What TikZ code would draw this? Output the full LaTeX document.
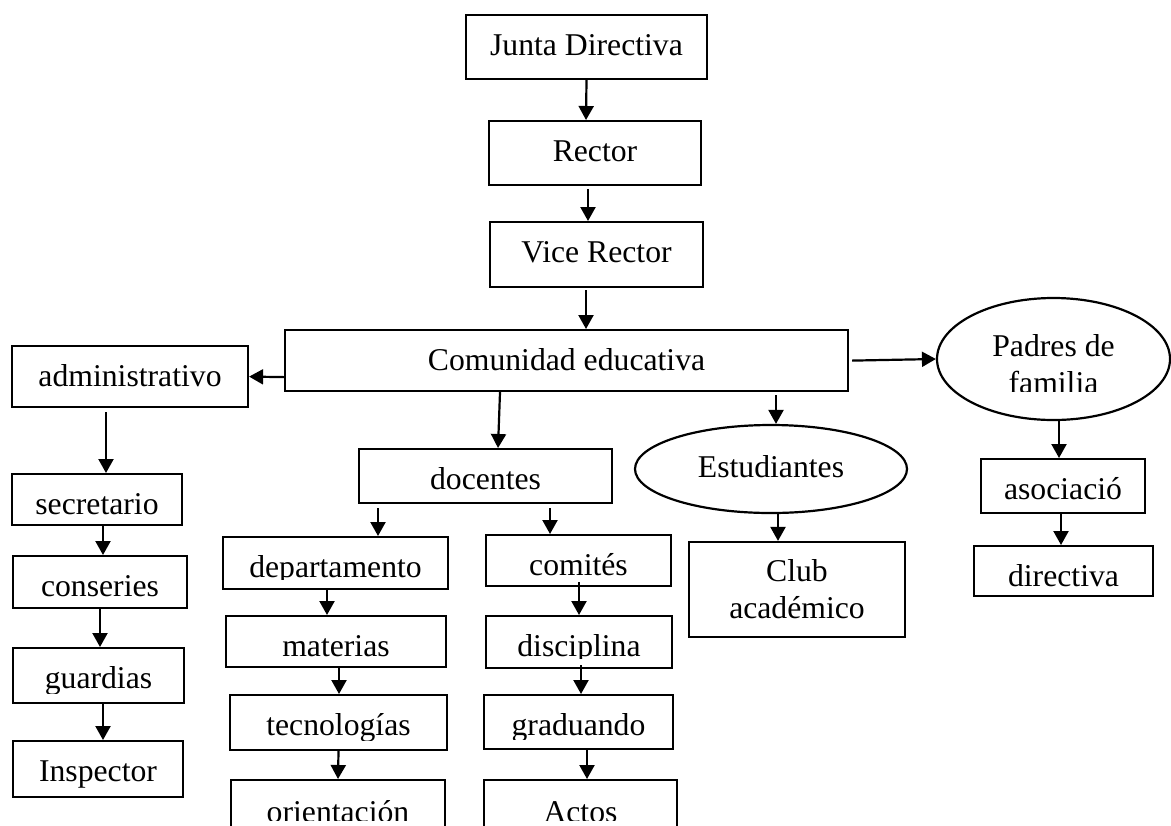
\documentclass[tikz,border=0pt]{standalone}
\usepackage{fontspec}
\setmainfont{Liberation Serif}
\usepackage{trimclip}
\usetikzlibrary{arrows.meta,calc,shapes.geometric}

\newcommand{\cuttext}[2]{\clipbox{0pt {#1} 0pt 0pt}{#2}}

\begin{document}
\begin{tikzpicture}[->,>={Triangle[length=7pt,width=7.5pt]},x=0.5pt,y=-0.5pt,
  line width=1.1pt,font=\fontsize{15.85}{18.5}\selectfont,
  box node/.style 2 args={draw,rectangle,anchor=north,inner ysep=3pt,
    text height=17pt,text depth=#2,minimum width=#1},
  oval node/.style 2 args={draw,ellipse,inner sep=0pt,minimum width=#1,minimum height=#2}]

\useasboundingbox (0,0) rectangle (1171,825);
\clip (0,0) rectangle (1171,825);

\node[box node={120.5pt}{9pt}](junta) at (586.5,14) {Junta Directiva};
\node[box node={106pt}{9pt}](rector) at (595,120) {Rector};
\node[box node={106.5pt}{9.5pt}](vice) at (596.5,221) {Vice Rector};
\node[box node={281.5pt}{7.5pt}](comunidad) at (566.5,329) {Comunidad educativa};
\node[box node={118pt}{7.5pt}](admin) at (130,345) {administrativo};
\node[oval node={116.5pt}{61pt}](padres) at (1053.5,359)
  {\raisebox{-0.8pt}[\height][\depth]{\cuttext{\depth+1pt}{\begin{tabular}[b]{@{}c@{}}Padres de\\familia\end{tabular}}}};
\node[box node={126.5pt}{4pt}](docentes) at (485.5,448) {docentes};
\node[oval node={136pt}{44pt},text depth=3pt](estudiantes) at (771,469) {Estudiantes};

\node[box node={85pt}{2.5pt}](secretario) at (97,473) {secretario};
\node[box node={87pt}{3pt}](conseries) at (100,555) {conseries};
\node[box node={85.5pt}{4.5pt}](guardias) at (98.5,647) {\cuttext{\depth-2.5pt}{guardias}};
\node[box node={85pt}{5pt}](inspector) at (98,740) {Inspector};

\node[box node={112.5pt}{3pt}](departamento) at (335.5,536) {\cuttext{\depth-1pt}{departamento}};
\node[box node={110pt}{2.5pt}](materias) at (336,615) {\cuttext{\depth-0.5pt}{materias}};
\node[box node={108.5pt}{4.5pt}](tecnologias) at (338.5,694) {\cuttext{\depth-2.5pt}{tecnologías}};
\node[box node={107pt}{5pt}](orientacion) at (338,779) {\cuttext{\depth+1pt}{orientación}};
\node[box node={92.5pt}{2.5pt}](comites) at (578.5,534) {comités};
\node[box node={93pt}{3pt}](disciplina) at (579,615) {\cuttext{\depth-1pt}{disciplina}};
\node[box node={94.5pt}{4pt}](graduando) at (578.5,694) {\cuttext{\depth-2pt}{graduando}};
\node[box node={96.5pt}{5pt}](actos) at (580.5,779) {\cuttext{\depth+1pt}{Actos}};

\node[draw,minimum width=108pt,minimum height=47.5pt,align=center](club) at (797,589.5) {Club\\académico};
\node[box node={82pt}{4pt}](asociacion) at (1063,458) {asociació};
\node[box node={89.5pt}{2pt}](directiva) at (1063.5,545) {directiva};

\path
(junta.south) edge ($(rector.north)+(-9,0)$)
($(rector.south)+(-7,3)$) edge ($(vice.north)+(-8.5,0)$)
($(vice.south)+(-10.5,2)$) edge ($(comunidad.north)+(19.5,0)$)
($(comunidad.west)+(0,16.5)$) edge (admin.east)
($(comunidad.east)+(3,0)$) edge (padres.west)
($(comunidad.south)+(-66.5,0)$) edge ($(docentes.north)+(12.5,0)$)
($(comunidad.south)+(209.5,3)$) edge ($(estudiantes.north)+(5,0)$)
($(admin.south)+(-24,4)$) edge ($(secretario.north)+(9,0)$)
($(secretario.south)+(6,0)$) edge ($(conseries.north)+(3,0)$)
(conseries.south) edge ($(guardias.north)+(1.5,0)$)
($(guardias.south)+(4.5,0)$) edge ($(inspector.north)+(5,0)$)
($(docentes.south)+(-107.5,4)$) edge ($(departamento.north)+(42.5,0)$)
($(docentes.south)+(64.5,4)$) edge ($(comites.north)+(-28.5,0)$)
($(departamento.south)+(-8.5,0)$) edge ($(materias.north)+(-9,0)$)
($(materias.south)+(3,0)$) edge ($(tecnologias.north)+(0.5,0)$)
(tecnologias.south) edge (orientacion.north)
($(comites.south)+(0.5,-5)$) edge (disciplina.north)
($(disciplina.south)+(2,-4)$) edge ($(graduando.north)+(2.5,0)$)
($(graduando.south)+(8.5,0)$) edge ($(actos.north)+(6.5,0)$)
($(estudiantes.south)+(7,0)$) edge ($(club.north)+(-19,0)$)
($(padres.south)+(5.5,0)$) edge ($(asociacion.north)+(-4,0)$)
($(asociacion.south)+(-2,0)$) edge ($(directiva.north)+(-2.5,0)$);

\end{tikzpicture}
\end{document}
